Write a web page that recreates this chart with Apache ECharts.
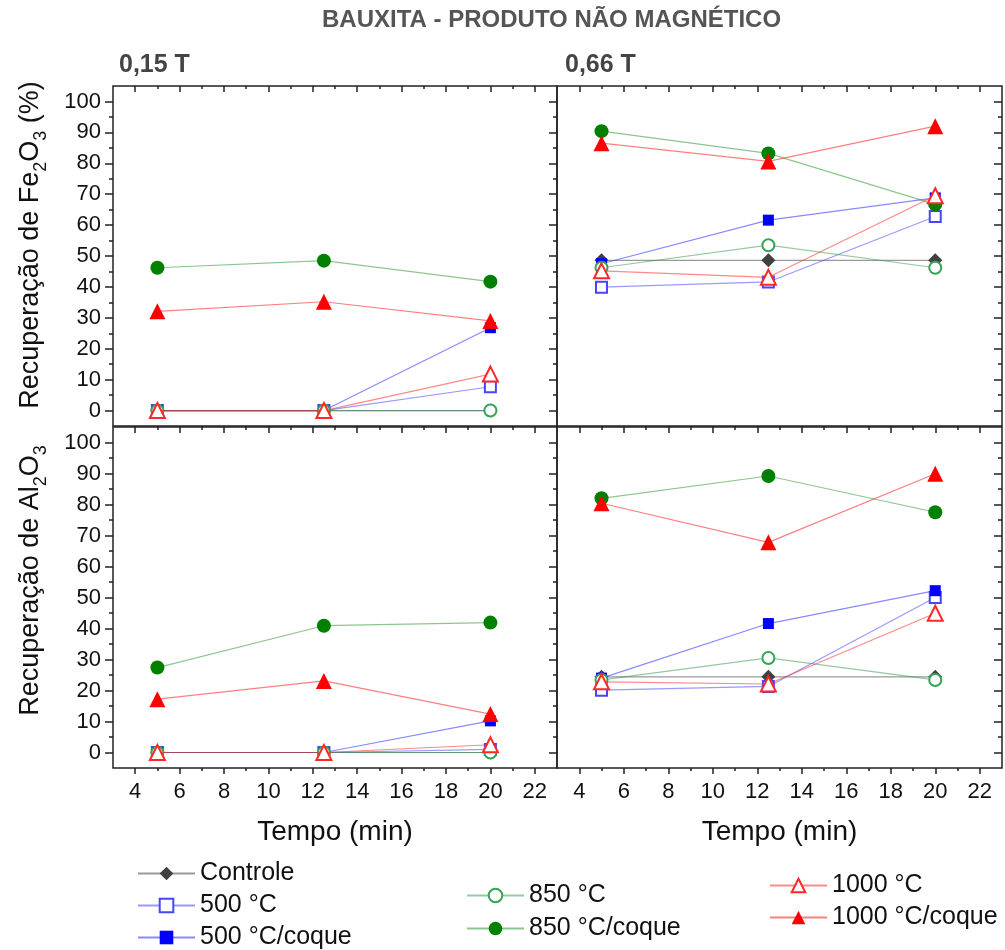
<!DOCTYPE html>
<html>
<head>
<meta charset="utf-8">
<script src="https://cdn.jsdelivr.net/npm/echarts@6/dist/echarts.min.js"></script>
<style>
html,body{margin:0;padding:0;background:#fff;}
#chart{width:1005px;height:950px;}
</style>
</head>
<body>
<div id="chart"></div>
<script>
// ---------- data ----------
const tempo = [5, 12.5, 20];
const seriesNames = ['Controle', '500 °C', '500 °C/coque', '850 °C', '850 °C/coque', '1000 °C', '1000 °C/coque'];

// Fe2O3 recovery, 0.15 T
const fe015_controle = [0, 0, 0];
const fe015_500 = [0, 0, 7.7];
const fe015_500coque = [0, 0, 26.8];
const fe015_850 = [0, 0, 0];
const fe015_850coque = [46.2, 48.5, 41.7];
const fe015_1000 = [0, 0, 11.8];
const fe015_1000coque = [32.1, 35.2, 29.0];

// Fe2O3 recovery, 0.66 T
const fe066_controle = [48.6, 48.6, 48.6];
const fe066_500 = [39.9, 41.6, 62.8];
const fe066_500coque = [47.5, 61.6, 68.8];
const fe066_850 = [46.2, 53.5, 46.2];
const fe066_850coque = [90.4, 83.2, 66.7];
const fe066_1000 = [45.2, 43.1, 69.5];
const fe066_1000coque = [86.5, 80.6, 92.0];

// Al2O3 recovery, 0.15 T
const al015_controle = [0, 0, 0];
const al015_500 = [0, 0, 1.0];
const al015_500coque = [0, 0, 10.2];
const al015_850 = [0, 0, 0];
const al015_850coque = [27.4, 40.9, 41.9];
const al015_1000 = [0, 0, 2.5];
const al015_1000coque = [17.2, 23.1, 12.4];

// Al2O3 recovery, 0.66 T
const al066_controle = [24.4, 24.4, 24.4];
const al066_500 = [20.1, 21.3, 50.0];
const al066_500coque = [24.0, 41.6, 52.2];
const al066_850 = [23.4, 30.5, 23.4];
const al066_850coque = [82.0, 89.2, 77.5];
const al066_1000 = [22.8, 22.1, 44.9];
const al066_1000coque = [80.4, 67.8, 89.9];

// tick labels
const xTicks = [3, 4, 5, 6, 7, 8, 9, 10, 11, 12, 13, 14, 15, 16, 17, 18, 19, 20, 21, 22, 23];
const yTicks = [-5, 0, 5, 10, 15, 20, 25, 30, 35, 40, 45, 50, 55, 60, 65, 70, 75, 80, 85, 90, 95, 100, 105];

// ---------- styling ----------
const FONT = "'Liberation Sans', Arial, sans-serif";
const styles = [
  { symbol: 'diamond', size: 14, color: '#404040', line: '#9a9a9a' },
  { symbol: 'emptyRect', size: 11, color: '#4646ff', line: 'rgba(70,70,255,0.55)' },
  { symbol: 'rect', size: 11, color: '#0000ff', line: 'rgba(40,40,255,0.55)' },
  { symbol: 'emptyCircle', size: 12, color: '#36a456', line: 'rgba(40,150,70,0.5)' },
  { symbol: 'circle', size: 14, color: '#008000', line: 'rgba(0,128,0,0.45)' },
  { symbol: 'emptyTriangle', size: 15, color: '#ff2828', line: 'rgba(255,40,40,0.55)' },
  { symbol: 'triangle', size: 16, color: '#ff0000', line: 'rgba(255,0,0,0.5)' }
];

const panels = [
  { rect: { left: 113, top: 86, width: 444, height: 340 }, data: [fe015_controle, fe015_500, fe015_500coque, fe015_850, fe015_850coque, fe015_1000, fe015_1000coque], leftCol: true, bottomRow: false,
    yName: '{n|Recuperação de Fe}{s|2}{n|O}{s|3}{n| (%)}', namePad: 22 },
  { rect: { left: 557, top: 86, width: 445, height: 340 }, data: [fe066_controle, fe066_500, fe066_500coque, fe066_850, fe066_850coque, fe066_1000, fe066_1000coque], leftCol: false, bottomRow: false },
  { rect: { left: 113, top: 427, width: 444, height: 341 }, data: [al015_controle, al015_500, al015_500coque, al015_850, al015_850coque, al015_1000, al015_1000coque], leftCol: true, bottomRow: true,
    yName: '{n|Recuperação de Al}{s|2}{n|O}{s|3}', namePad: 34 },
  { rect: { left: 557, top: 427, width: 445, height: 341 }, data: [al066_controle, al066_500, al066_500coque, al066_850, al066_850coque, al066_1000, al066_1000coque], leftCol: false, bottomRow: true }
];

const TICK = { color: '#222', width: 1.5 };
const grids = [], xAxes = [], yAxes = [], series = [];

const xMajor = (i, v) => Number(v) % 2 === 0;
const xMinor = (i, v) => Number(v) % 2 !== 0 && Number(v) !== 3 && Number(v) !== 23;
const yMajor = (i, v) => Number(v) % 10 === 0;
const yMinor = (i, v) => Number(v) % 10 !== 0 && Number(v) !== -5 && Number(v) !== 105;

panels.forEach((p, pi) => {
  const gMajor = grids.length;
  grids.push(Object.assign({ show: true, borderColor: '#222', borderWidth: 1.5, backgroundColor: 'transparent', containLabel: false }, p.rect));
  const gMinor = grids.length;
  grids.push(Object.assign({ show: false, containLabel: false }, p.rect));
  const gData = grids.length;
  grids.push(Object.assign({ show: false, containLabel: false }, p.rect));

  const catX = (grid, position, inside, len, fn, label, name) => ({
    type: 'category', gridIndex: grid, position: position, data: xTicks.map(String), boundaryGap: false,
    axisLine: { show: false },
    axisTick: { show: true, inside: inside, length: len, interval: fn, lineStyle: TICK },
    axisLabel: { show: !!label, interval: fn, fontSize: 22, fontFamily: FONT, color: '#111', margin: 13 },
    splitLine: { show: false },
    name: name || '', nameLocation: 'middle', nameGap: 50,
    nameTextStyle: { fontSize: 28, fontFamily: FONT, color: '#111' },
    silent: true
  });
  const catY = (grid, position, inside, len, fn, label, name, pad) => ({
    type: 'category', gridIndex: grid, position: position, data: yTicks.map(String), boundaryGap: false,
    axisLine: { show: false },
    axisTick: { show: true, inside: inside, length: len, interval: fn, lineStyle: TICK },
    axisLabel: { show: !!label, interval: fn, fontSize: 22, fontFamily: FONT, color: '#111', margin: 12 },
    splitLine: { show: false },
    name: name || '', nameLocation: 'middle', nameGap: 63, nameRotate: 90,
    nameTextStyle: {
      fontFamily: FONT, color: '#111', padding: [0, 0, 0, pad || 0],
      rich: {
        n: { fontSize: 27, fontFamily: FONT, color: '#111', lineHeight: 39, verticalAlign: 'middle' },
        s: { fontSize: 18, fontFamily: FONT, color: '#111', lineHeight: 18, verticalAlign: 'bottom' }
      }
    },
    silent: true
  });

  xAxes.push(catX(gMajor, 'bottom', false, 6, xMajor, p.bottomRow, p.bottomRow ? 'Tempo (min)' : ''));
  xAxes.push(catX(gMajor, 'top', true, 6, xMajor, false));
  xAxes.push(catX(gMinor, 'bottom', false, 3, xMinor, false));
  xAxes.push(catX(gMinor, 'top', true, 3, xMinor, false));
  const xData = xAxes.length;
  xAxes.push({ type: 'value', gridIndex: gData, min: 3, max: 23, show: false });

  yAxes.push(catY(gMajor, 'left', false, 8, yMajor, p.leftCol, p.yName, p.namePad));
  yAxes.push(catY(gMajor, 'right', true, 8, yMajor, false));
  yAxes.push(catY(gMinor, 'left', false, 4, yMinor, false));
  yAxes.push(catY(gMinor, 'right', true, 4, yMinor, false));
  const yData = yAxes.length;
  yAxes.push({ type: 'value', gridIndex: gData, min: -5, max: 105, show: false });

  seriesNames.forEach((name, si) => {
    const st = styles[si];
    series.push({
      type: 'line', name: name, xAxisIndex: xData, yAxisIndex: yData,
      data: tempo.map((t, k) => [t, p.data[si][k]]),
      symbol: st.symbol, symbolSize: st.size, showSymbol: true,
      itemStyle: { color: st.color },
      lineStyle: { color: st.line, width: 1.2 },
      emphasis: { disabled: true },
      z: 3 + si * 0.01
    });
  });
});

const legendText = { fontSize: 25, fontFamily: FONT, color: '#111', lineHeight: 24 };
const option = {
  animation: false,
  backgroundColor: '#fff',
  title: [
    { text: 'BAUXITA - PRODUTO NÃO MAGNÉTICO', left: 322, top: 8, padding: 0,
      textStyle: { fontSize: 24, fontWeight: 'bold', fontFamily: FONT, color: '#555' } },
    { text: '0,15 T', left: 119, top: 53, padding: 0,
      textStyle: { fontSize: 25, fontWeight: 'bold', fontFamily: FONT, color: '#444' } },
    { text: '0,66 T', left: 565, top: 53, padding: 0,
      textStyle: { fontSize: 25, fontWeight: 'bold', fontFamily: FONT, color: '#444' } }
  ],
  legend: [
    { data: seriesNames.slice(0, 3), orient: 'vertical', left: 137, top: 861, itemWidth: 57, itemHeight: 17, itemGap: 7, padding: 0, selectedMode: false, textStyle: legendText },
    { data: seriesNames.slice(3, 5), orient: 'vertical', left: 466, top: 883, itemWidth: 57, itemHeight: 17, itemGap: 8, padding: 0, selectedMode: false, textStyle: legendText },
    { data: seriesNames.slice(5, 7), orient: 'vertical', left: 769, top: 873, itemWidth: 57, itemHeight: 17, itemGap: 7, padding: 0, selectedMode: false, textStyle: legendText }
  ],
  grid: grids,
  xAxis: xAxes,
  yAxis: yAxes,
  series: series
};

const chart = echarts.init(document.getElementById('chart'), null, { renderer: 'canvas' });
chart.setOption(option);
</script>
</body>
</html>
